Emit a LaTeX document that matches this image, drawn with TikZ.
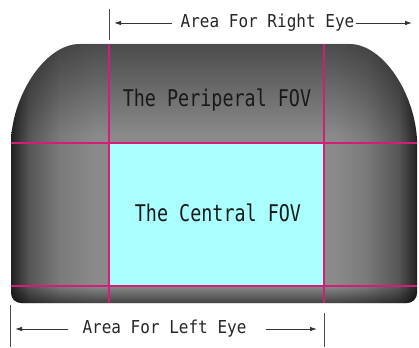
\documentclass[tikz,border=0pt]{standalone}
\usepackage{fontspec}
\usetikzlibrary{arrows.meta,fadings}
\newfontfamily\gothic[FakeStretch=0.8]{DejaVu Sans Mono}
\newfontfamily\gothiclab[FakeStretch=0.9]{DejaVu Sans Mono}
\definecolor{fovcyan}{RGB}{170,255,255}
\definecolor{fovline}{RGB}{210,30,120}
\pgfdeclarehorizontalshading{bodyshade}{100bp}{color(0bp)=(black!87); color(25bp)=(black!87); color(27.3bp)=(black!66); color(31bp)=(black!52); color(35.3bp)=(black!46); color(64.9bp)=(black!46); color(68.6bp)=(black!52); color(72.7bp)=(black!66); color(75bp)=(black!87); color(100bp)=(black!87)}
\tikzfading[name=topdark, top color=transparent!55, bottom color=transparent!100]
\tikzfading[name=bottomdark, top color=transparent!100, bottom color=transparent!45]
\tikzset{
	fov text/.style={font=\gothic\fontsize{23}{23}\selectfont, text=black!90, inner sep=1pt},
	eye text/.style={font=\gothiclab\fontsize{17.8}{18}\selectfont, text=black!85, inner sep=1pt},
	eye arrow/.style={line width=0.9pt, black!80, -{Latex[length=7pt,width=4.5pt]}},
	eye tick/.style={line width=0.9pt, black!70},
	grid line/.style={line width=1.3pt, fovline}
}

\begin{document}
\begin{tikzpicture}[x=1pt,y=1pt]
	\useasboundingbox (0,0) rectangle (419,-347);
	
	% body of the display
	\def\bodypath{(80,-44) -- (349,-44) .. controls (384,-44) and (415,-95) .. (417,-140) -- (417,-293) arc[start angle=0, end angle=-90, radius=10] -- (21,-303) arc[start angle=270, end angle=180, radius=10] -- (11,-140) .. controls (13,-95) and (45,-44) .. (80,-44) -- cycle}
	\shade[shading=bodyshade] \bodypath;
	\begin{scope}
		\clip \bodypath;
		\fill[black, path fading=topdark] (0,-44) rectangle (419,-135);
		\fill[black, path fading=bottomdark] (0,-286) rectangle (419,-304);
	\end{scope}
	
	% central area
	\coordinate (cen-nw) at (109,-143);
	\coordinate (cen-se) at (324,-286);
	\fill[fovcyan] (cen-nw) rectangle (cen-se);
	
	% grid lines
	\draw[grid line] (11,-143) -- (417,-143);
	\draw[grid line] (11,-286) -- (417,-286);
	\draw[grid line] (109,-44) -- (109,-303);
	\draw[grid line] (324,-44) -- (324,-303);
	
	\node[fov text] at (217,-100) (periperal) {The Periperal FOV};
	\node[fov text] at (218,-213) (central) {The Central FOV};
	
	% right eye
	\node[eye text] at (267.5,-23) (right-eye) {Area For Right Eye};
	\coordinate (right-tick-top) at (109,-9);
	\coordinate (right-tick-bot) at (109,-40);
	\coordinate (right-a) at (114,-23);
	\coordinate (right-b) at (412,-23);
	\draw[eye tick] (right-tick-top) -- (right-tick-bot);
	\draw[eye arrow] ([xshift=-8pt]right-eye.west) -- (right-a);
	\draw[eye arrow] (right-eye.east) -- (right-b);
	
	% left eye
	\node[eye text] at (164.5,-329) (left-eye) {Area For Left Eye};
	\coordinate (left-tick-top) at (10,-305);
	\coordinate (left-tick-bot) at (10,-347);
	\coordinate (left-tick2-top) at (324,-313);
	\coordinate (left-tick2-bot) at (324,-347);
	\coordinate (left-a) at (15,-329);
	\coordinate (left-b) at (317,-329);
	\draw[eye tick] (left-tick-top) -- (left-tick-bot);
	\draw[eye tick] (left-tick2-top) -- (left-tick2-bot);
	\draw[eye arrow] ([xshift=-13pt]left-eye.west) -- (left-a);
	\draw[eye arrow] ([xshift=18pt]left-eye.east) -- (left-b);
\end{tikzpicture}
\end{document}
